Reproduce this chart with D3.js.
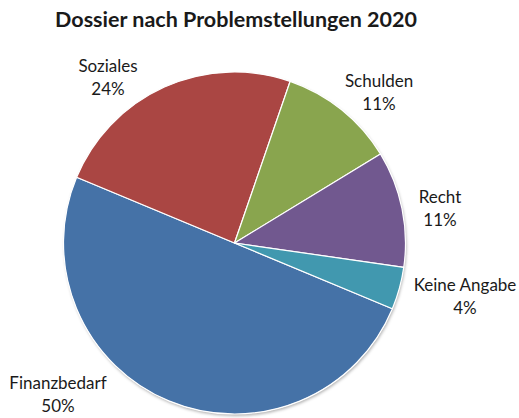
<!DOCTYPE html>
<html>
<head>
<meta charset="utf-8">
<script src="https://cdn.jsdelivr.net/npm/d3@7"></script>
<style>
  html, body { margin: 0; padding: 0; background: #fff; }
  svg { display: block; }
  text { font-family: Lato, "Open Sans", sans-serif; fill: #1a1a1a; }
</style>
</head>
<body>
<svg id="chart" width="519" height="418"></svg>
<script>
// Problem categories and their shares (percent)
const categories = ["Finanzbedarf", "Soziales", "Schulden", "Recht", "Keine Angabe"];
const shares = [50, 24, 11, 11, 4];
const colors = ["#4572A7", "#AA4643", "#89A54E", "#71588F", "#4198AF"];
const title = "Dossier nach Problemstellungen 2020";

// Label anchor points (centre of the two-line label, first baseline)
const labelAnchors = {
  "Finanzbedarf": [58, 389],
  "Soziales": [108, 72],
  "Schulden": [379, 87],
  "Recht": [440, 203],
  "Keine Angabe": [465, 291]
};

const width = 519, height = 418;
const cx = 234.5, cy = 243, radius = 171;

const svg = d3.select("#chart");

const defs = svg.append("defs");
const f = defs.append("filter").attr("id", "shadow")
  .attr("x", "-10%").attr("y", "-10%").attr("width", "120%").attr("height", "120%");
f.append("feDropShadow").attr("dx", 1).attr("dy", 2).attr("stdDeviation", 1.5)
  .attr("flood-color", "#000").attr("flood-opacity", 0.3);

svg.append("text")
  .attr("x", 236).attr("y", 27)
  .attr("text-anchor", "middle")
  .attr("font-size", 21.5).attr("font-weight", "bold")
  .text(title);

const data = categories.map((c, i) => ({ name: c, value: shares[i], color: colors[i] }));

const startDeg = 112.6;
const pie = d3.pie().sort(null).value(d => d.value)
  .startAngle(startDeg * Math.PI / 180)
  .endAngle((startDeg + 360) * Math.PI / 180);

const arc = d3.arc().innerRadius(0).outerRadius(radius);

const g = svg.append("g").attr("transform", `translate(${cx},${cy})`);

g.append("circle").attr("r", radius).attr("fill", "#fff").attr("filter", "url(#shadow)");

g.selectAll("path.slice")
  .data(pie(data))
  .join("path")
  .attr("class", "slice")
  .attr("d", arc)
  .attr("fill", d => d.data.color)
  .attr("stroke", "#fff")
  .attr("stroke-width", 1.2)
  .attr("stroke-linejoin", "round");

const labels = svg.selectAll("text.lbl")
  .data(data)
  .join("text")
  .attr("class", "lbl")
  .attr("text-anchor", "middle")
  .attr("font-size", 17)
  .attr("x", d => labelAnchors[d.name][0])
  .attr("y", d => labelAnchors[d.name][1]);

labels.append("tspan").text(d => d.name);
labels.append("tspan")
  .attr("x", d => labelAnchors[d.name][0])
  .attr("dy", 23)
  .text(d => d.value + "%");
</script>
</body>
</html>
